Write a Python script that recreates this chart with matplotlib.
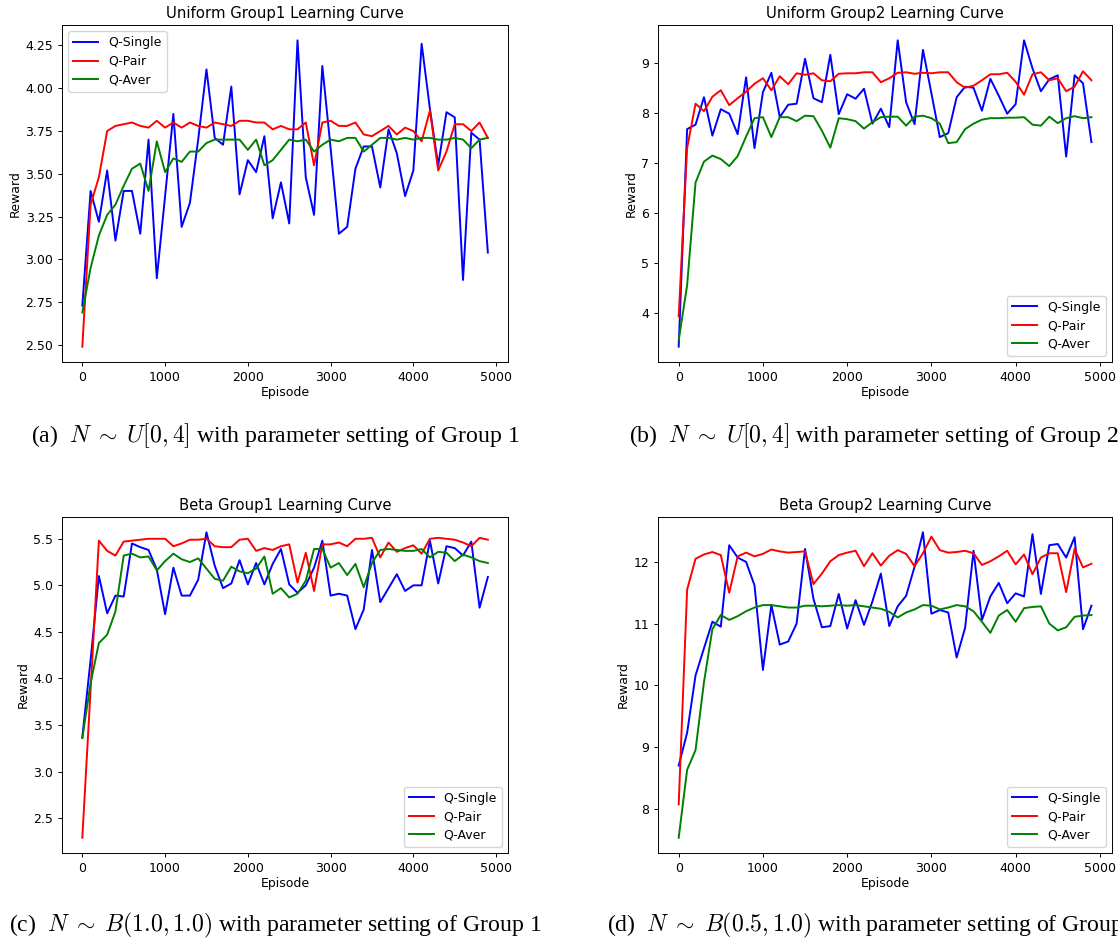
"""
Learning curves for Q-Single / Q-Pair / Q-Aver, four settings in a 2x2 grid.
Generates: out.png
"""
import matplotlib
matplotlib.use("Agg")
import matplotlib.pyplot as plt
import numpy as np

EPISODES = np.arange(0, 5000, 100)

# (a) Uniform Group1
UNI1_SINGLE = [2.73, 3.40, 3.22, 3.52, 3.11, 3.40, 3.40, 3.15, 3.70, 2.89,
               3.37, 3.85, 3.19, 3.33, 3.70, 4.11, 3.71, 3.67, 4.01, 3.38,
               3.58, 3.51, 3.72, 3.24, 3.45, 3.21, 4.28, 3.48, 3.26, 4.13,
               3.65, 3.15, 3.19, 3.53, 3.66, 3.66, 3.42, 3.76, 3.62, 3.37,
               3.52, 4.26, 3.88, 3.55, 3.86, 3.83, 2.88, 3.74, 3.70, 3.04]
UNI1_PAIR = [2.49, 3.32, 3.48, 3.75, 3.78, 3.79, 3.80, 3.78, 3.77, 3.81,
             3.77, 3.80, 3.77, 3.80, 3.78, 3.77, 3.80, 3.79, 3.78, 3.81,
             3.81, 3.80, 3.80, 3.76, 3.78, 3.76, 3.76, 3.80, 3.55, 3.80,
             3.81, 3.78, 3.78, 3.80, 3.73, 3.72, 3.75, 3.78, 3.73, 3.77,
             3.75, 3.69, 3.87, 3.52, 3.63, 3.79, 3.79, 3.75, 3.80, 3.71]
UNI1_AVER = [2.69, 2.95, 3.14, 3.26, 3.32, 3.43, 3.53, 3.56, 3.40, 3.69,
             3.51, 3.59, 3.57, 3.63, 3.63, 3.68, 3.70, 3.70, 3.70, 3.70,
             3.64, 3.70, 3.55, 3.58, 3.64, 3.70, 3.69, 3.70, 3.63, 3.67,
             3.70, 3.69, 3.71, 3.71, 3.63, 3.67, 3.71, 3.71, 3.70, 3.71,
             3.70, 3.71, 3.71, 3.70, 3.70, 3.71, 3.70, 3.65, 3.70, 3.71]

# (b) Uniform Group2
UNI2_SINGLE = [3.32, 7.68, 7.77, 8.32, 7.55, 8.08, 7.99, 7.58, 8.72, 7.30,
               8.42, 8.81, 7.92, 8.17, 8.19, 9.09, 8.30, 8.22, 9.17, 7.98,
               8.38, 8.29, 8.49, 7.79, 8.09, 7.72, 9.46, 8.22, 7.78, 9.27,
               8.40, 7.52, 7.60, 8.32, 8.53, 8.51, 8.05, 8.69, 8.35, 7.99,
               8.18, 9.46, 8.90, 8.44, 8.68, 8.76, 7.13, 8.76, 8.60, 7.42]
UNI2_PAIR = [3.93, 7.30, 8.19, 8.04, 8.33, 8.46, 8.16, 8.30, 8.43, 8.59,
             8.70, 8.46, 8.74, 8.58, 8.80, 8.77, 8.80, 8.66, 8.64, 8.79,
             8.80, 8.80, 8.82, 8.82, 8.62, 8.70, 8.81, 8.82, 8.79, 8.81,
             8.80, 8.82, 8.82, 8.62, 8.51, 8.55, 8.66, 8.78, 8.78, 8.81,
             8.63, 8.37, 8.78, 8.82, 8.66, 8.70, 8.44, 8.53, 8.84, 8.66]
UNI2_AVER = [3.45, 4.55, 6.61, 7.03, 7.15, 7.08, 6.94, 7.14, 7.53, 7.90,
             7.92, 7.52, 7.92, 7.92, 7.84, 7.95, 7.94, 7.65, 7.31, 7.90,
             7.88, 7.84, 7.69, 7.82, 7.92, 7.93, 7.93, 7.75, 7.93, 7.95,
             7.90, 7.79, 7.40, 7.42, 7.68, 7.79, 7.87, 7.90, 7.90, 7.91,
             7.91, 7.92, 7.77, 7.75, 7.93, 7.80, 7.90, 7.94, 7.90, 7.92]

# (c) Beta Group1
BETA1_SINGLE = [3.37, 4.20, 5.10, 4.70, 4.89, 4.88, 5.45, 5.41, 5.38, 5.17,
                4.69, 5.19, 4.89, 4.89, 5.06, 5.57, 5.21, 4.97, 5.02, 5.27,
                5.01, 5.24, 5.01, 5.23, 5.39, 5.01, 4.92, 5.00, 5.19, 5.48,
                4.89, 4.91, 4.89, 4.53, 4.74, 5.38, 4.82, 4.97, 5.12, 4.94,
                5.00, 5.00, 5.48, 5.02, 5.42, 5.40, 5.32, 5.47, 4.76, 5.09]
BETA1_PAIR = [2.29, 3.88, 5.48, 5.37, 5.32, 5.47, 5.48, 5.49, 5.50, 5.50,
              5.50, 5.42, 5.45, 5.49, 5.49, 5.50, 5.42, 5.41, 5.41, 5.49,
              5.50, 5.37, 5.40, 5.38, 5.42, 5.44, 5.03, 5.35, 4.94, 5.44,
              5.44, 5.46, 5.42, 5.50, 5.50, 5.51, 5.30, 5.46, 5.36, 5.40,
              5.43, 5.34, 5.50, 5.51, 5.50, 5.49, 5.46, 5.42, 5.51, 5.49]
BETA1_AVER = [3.36, 3.95, 4.38, 4.47, 4.72, 5.32, 5.34, 5.30, 5.31, 5.16,
              5.26, 5.34, 5.28, 5.25, 5.29, 5.18, 5.07, 5.05, 5.20, 5.15,
              5.13, 5.18, 5.31, 4.91, 4.97, 4.87, 4.91, 5.05, 5.39, 5.39,
              5.19, 5.24, 5.11, 5.23, 4.98, 5.24, 5.38, 5.39, 5.38, 5.37,
              5.37, 5.39, 5.30, 5.36, 5.35, 5.26, 5.33, 5.30, 5.26, 5.24]

# (d) Beta Group2
BETA2_SINGLE = [8.70, 9.23, 10.16, 10.60, 11.03, 10.95, 12.27, 12.07, 12.00, 11.62,
                10.25, 11.30, 10.66, 10.71, 11.00, 12.21, 11.40, 10.94, 10.96, 11.48,
                10.92, 11.38, 10.98, 11.36, 11.81, 10.96, 11.28, 11.45, 11.92, 12.48,
                11.16, 11.22, 11.18, 10.45, 10.93, 12.18, 11.06, 11.44, 11.66, 11.33,
                11.49, 11.44, 12.45, 11.48, 12.27, 12.29, 12.07, 12.40, 10.91, 11.29]
BETA2_PAIR = [8.07, 11.55, 12.05, 12.12, 12.16, 12.11, 11.50, 12.09, 12.15, 12.09,
              12.13, 12.20, 12.17, 12.15, 12.16, 12.17, 11.64, 11.81, 12.01, 12.11,
              12.15, 12.18, 11.93, 12.14, 11.94, 12.10, 12.19, 12.13, 11.93, 12.14,
              12.41, 12.19, 12.15, 12.16, 12.18, 12.14, 11.95, 12.01, 12.09, 12.18,
              11.96, 12.12, 11.80, 12.07, 12.14, 12.14, 11.51, 12.21, 11.91, 11.97]
BETA2_AVER = [7.53, 8.63, 8.95, 10.05, 10.91, 11.14, 11.06, 11.12, 11.20, 11.26,
              11.30, 11.30, 11.28, 11.26, 11.26, 11.29, 11.29, 11.28, 11.29, 11.30,
              11.29, 11.30, 11.28, 11.26, 11.24, 11.19, 11.10, 11.18, 11.23, 11.30,
              11.29, 11.23, 11.26, 11.30, 11.28, 11.20, 11.03, 10.85, 11.13, 11.22,
              11.03, 11.25, 11.27, 11.28, 11.00, 10.89, 10.94, 11.11, 11.13, 11.14]

TITLES = ["Uniform Group1 Learning Curve", "Uniform Group2 Learning Curve",
          "Beta Group1 Learning Curve", "Beta Group2 Learning Curve"]
CAPTIONS = [r"(a)  $N \;\sim\; U[0,4]$ with parameter setting of Group 1",
            r"(b)  $N \;\sim\; U[0,4]$ with parameter setting of Group 2",
            r"(c)  $N \;\sim\; B(1.0,1.0)$ with parameter setting of Group 1",
            r"(d)  $N \;\sim\; B(0.5,1.0)$ with parameter setting of Group 2"]
SERIES_NAMES = ["Q-Single", "Q-Pair", "Q-Aver"]
SERIES_COLORS = ["blue", "red", "green"]

PANELS = [
    (UNI1_SINGLE, UNI1_PAIR, UNI1_AVER),
    (UNI2_SINGLE, UNI2_PAIR, UNI2_AVER),
    (BETA1_SINGLE, BETA1_PAIR, BETA1_AVER),
    (BETA2_SINGLE, BETA2_PAIR, BETA2_AVER),
]
LEGEND_LOCS = ["upper left", "lower right", "lower right", "lower right"]

# axes boxes in figure fractions: left, bottom, width, height
AX_BOXES = [
    (0.0555, 0.6153, 0.3990, 0.3581),
    (0.5886, 0.6153, 0.4061, 0.3581),
    (0.0555, 0.0935, 0.3990, 0.3571),
    (0.5886, 0.0935, 0.4061, 0.3571),
]
# captions are centred under each column, like subfigure captions in a paper
CAPTION_POS = [(0.246, 0.5375), (0.782, 0.5375), (0.246, 0.017), (0.782, 0.017)]

plt.rcParams["font.family"] = ["DejaVu Sans"]
plt.rcParams["mathtext.fontset"] = "cm"

fig = plt.figure(figsize=(11.18, 9.41), dpi=100)

for idx, series in enumerate(PANELS):
    ax = fig.add_axes(AX_BOXES[idx])
    for values, name, color in zip(series, SERIES_NAMES, SERIES_COLORS):
        ax.plot(EPISODES, values, color=color, linewidth=1.4, label=name)
    ax.set_title(TITLES[idx], fontsize=10.7, pad=5)
    ax.set_xlabel("Episode", fontsize=9, labelpad=2)
    ax.set_ylabel("Reward", fontsize=9, labelpad=3)
    ax.set_xticks([0, 1000, 2000, 3000, 4000, 5000])
    ax.tick_params(labelsize=9, length=3.2, width=0.7, pad=3)
    for spine in ax.spines.values():
        spine.set_linewidth(0.7)
    ax.legend(loc=LEGEND_LOCS[idx], fontsize=9, handlelength=2.0,
              borderpad=0.4, labelspacing=0.45)
    fig.text(CAPTION_POS[idx][0], CAPTION_POS[idx][1], CAPTIONS[idx],
             fontsize=17.1, family="Liberation Serif", ha="center", va="center")

fig.savefig("out.png", dpi=100, facecolor="white")
plt.close(fig)
